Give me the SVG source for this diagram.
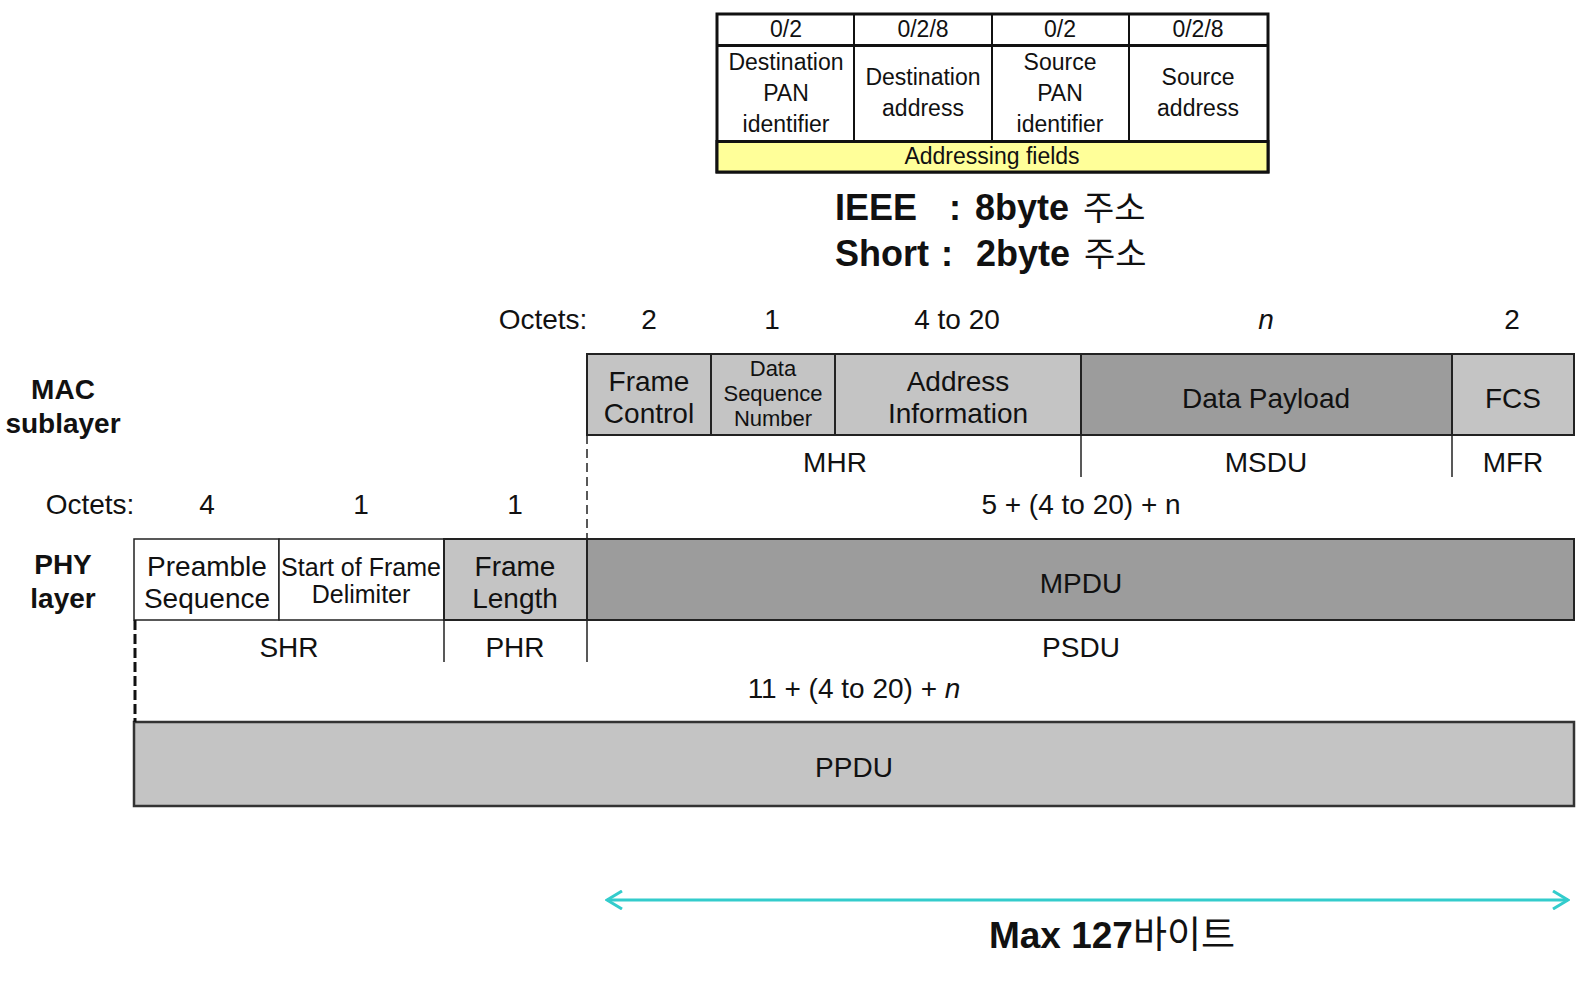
<svg xmlns="http://www.w3.org/2000/svg" width="1585" height="988" viewBox="0 0 1585 988">
<style>
text{font-family:"Liberation Sans",Arial,"Noto Sans CJK KR",sans-serif;fill:#111;text-anchor:middle}
.t23{font-size:23px}
.t28{font-size:28px}
.t25{font-size:25px}
.t22{font-size:22px}
.b{font-weight:bold}
.cell{stroke:#222;stroke-width:2}
.thin{stroke:#222;stroke-width:1.5}
.w{fill:#fff}
.lg{fill:#c4c4c4}
.dg{fill:#9c9c9c}
.yl{fill:#ffff99}
.kr{font-family:"Noto Sans CJK KR",sans-serif;font-weight:normal}
</style>
<defs>
<marker id="chev" viewBox="0 0 20 20" refX="18" refY="10" markerWidth="20" markerHeight="20" markerUnits="userSpaceOnUse" orient="auto-start-reverse">
<path d="M3,1 L18,10 L3,19" fill="none" stroke="#33cccc" stroke-width="3"/>
</marker>
</defs>
<rect width="1585" height="988" fill="#fff"/>

<g id="addressing-table">
<rect x="717" y="14" width="551" height="158" class="w" stroke="#111" stroke-width="3"/>
<rect x="717" y="141.5" width="551" height="30.5" class="yl" stroke="#111" stroke-width="3"/>
<line x1="717" y1="45.5" x2="1268" y2="45.5" stroke="#111" stroke-width="3"/>
<line x1="854" y1="14" x2="854" y2="141.5" stroke="#111" stroke-width="2"/>
<line x1="992" y1="14" x2="992" y2="141.5" stroke="#111" stroke-width="2"/>
<line x1="1129" y1="14" x2="1129" y2="141.5" stroke="#111" stroke-width="2"/>
<text class="t23" x="786" y="37">0/2</text>
<text class="t23" x="923" y="37">0/2/8</text>
<text class="t23" x="1060" y="37">0/2</text>
<text class="t23" x="1198" y="37">0/2/8</text>
<text class="t23" x="786" y="70">Destination</text>
<text class="t23" x="786" y="101">PAN</text>
<text class="t23" x="786" y="132">identifier</text>
<text class="t23" x="923" y="85">Destination</text>
<text class="t23" x="923" y="116">address</text>
<text class="t23" x="1060" y="70">Source</text>
<text class="t23" x="1060" y="101">PAN</text>
<text class="t23" x="1060" y="132">identifier</text>
<text class="t23" x="1198" y="85">Source</text>
<text class="t23" x="1198" y="116">address</text>
<text class="t23" x="992" y="164">Addressing fields</text>
</g>

<g id="address-note">
<text class="b" font-size="36" x="835" y="220" style="text-anchor:start">IEEE</text>
<text class="b" font-size="36" x="955" y="220">:</text>
<text class="b" font-size="36" x="975" y="220" style="text-anchor:start">8byte <tspan class="kr" font-size="34" dx="4">주소</tspan></text>
<text class="b" font-size="36" x="835" y="266" style="text-anchor:start">Short</text>
<text class="b" font-size="36" x="947" y="266">:</text>
<text class="b" font-size="36" x="976" y="266" style="text-anchor:start">2byte <tspan class="kr" font-size="34" dx="4">주소</tspan></text>
</g>

<g id="mac-octets">
<text class="t28" x="543" y="329">Octets:</text>
<text class="t28" x="649" y="329">2</text>
<text class="t28" x="772" y="329">1</text>
<text class="t28" x="957" y="329">4 to 20</text>
<text class="t28" x="1266" y="329" font-style="italic">n</text>
<text class="t28" x="1512" y="329">2</text>
</g>

<g id="mac-label">
<text class="t28 b" x="63" y="399">MAC</text>
<text class="t28 b" x="63" y="433">sublayer</text>
</g>

<g id="mac-frame">
<rect x="587" y="354" width="124" height="81" class="lg cell"/>
<rect x="711" y="354" width="124" height="81" class="lg cell"/>
<rect x="835" y="354" width="246" height="81" class="lg cell"/>
<rect x="1081" y="354" width="371" height="81" class="dg cell"/>
<rect x="1452" y="354" width="122" height="81" class="lg cell"/>
<text class="t28" x="649" y="391">Frame</text>
<text class="t28" x="649" y="423">Control</text>
<text class="t22" x="773" y="376">Data</text>
<text class="t22" x="773" y="401">Sequence</text>
<text class="t22" x="773" y="426">Number</text>
<text class="t28" x="958" y="391">Address</text>
<text class="t28" x="958" y="423">Information</text>
<text class="t28" x="1266" y="408">Data Payload</text>
<text class="t28" x="1513" y="408">FCS</text>
</g>

<g id="mac-groups">
<text class="t28" x="835" y="472">MHR</text>
<text class="t28" x="1266" y="472">MSDU</text>
<text class="t28" x="1513" y="472">MFR</text>
</g>

<g id="phy-octets">
<text class="t28" x="90" y="514">Octets:</text>
<text class="t28" x="207" y="514">4</text>
<text class="t28" x="361" y="514">1</text>
<text class="t28" x="515" y="514">1</text>
<text class="t28" x="1081" y="514">5 + (4 to 20) + n</text>
</g>

<g id="phy-label">
<text class="t28 b" x="63" y="574">PHY</text>
<text class="t28 b" x="63" y="608">layer</text>
</g>

<g id="phy-frame">
<rect x="134" y="539" width="145" height="81" class="w thin"/>
<rect x="279" y="539" width="165" height="81" class="w thin"/>
<rect x="444" y="539" width="143" height="81" class="lg cell"/>
<rect x="587" y="539" width="987" height="81" class="dg cell"/>
<text class="t28" x="207" y="576">Preamble</text>
<text class="t28" x="207" y="608">Sequence</text>
<text class="t25" x="361" y="576">Start of Frame</text>
<text class="t25" x="361" y="603">Delimiter</text>
<text class="t28" x="515" y="576">Frame</text>
<text class="t28" x="515" y="608">Length</text>
<text class="t28" x="1081" y="593">MPDU</text>
</g>

<g id="phy-groups">
<text class="t28" x="289" y="657">SHR</text>
<text class="t28" x="515" y="657">PHR</text>
<text class="t28" x="1081" y="657">PSDU</text>
<text class="t28" x="854" y="698">11 + (4 to 20) + <tspan font-style="italic">n</tspan></text>
</g>

<g id="ppdu">
<rect x="134" y="722" width="1440" height="84" class="lg" stroke="#333" stroke-width="2.5"/>
<text class="t28" x="854" y="777">PPDU</text>
</g>

<g id="connectors">
<line x1="1081" y1="435" x2="1081" y2="477" stroke="#222" stroke-width="1.5"/>
<line x1="1452" y1="435" x2="1452" y2="477" stroke="#222" stroke-width="1.5"/>
<line x1="587" y1="435" x2="587" y2="539" stroke="#222" stroke-width="1.5" stroke-dasharray="9,5"/>
<line x1="444" y1="620" x2="444" y2="662" stroke="#222" stroke-width="1.5"/>
<line x1="587" y1="620" x2="587" y2="662" stroke="#222" stroke-width="1.5"/>
<line x1="135" y1="620" x2="135" y2="722" stroke="#111" stroke-width="3" stroke-dasharray="10,4"/>
<line x1="607" y1="900" x2="1568" y2="900" stroke="#33cccc" stroke-width="3" marker-start="url(#chev)" marker-end="url(#chev)"/>
</g>

<g id="max-label">
<text class="b" font-size="37" x="1112" y="948">Max 127<tspan class="kr">바이트</tspan></text>
</g>
</svg>
